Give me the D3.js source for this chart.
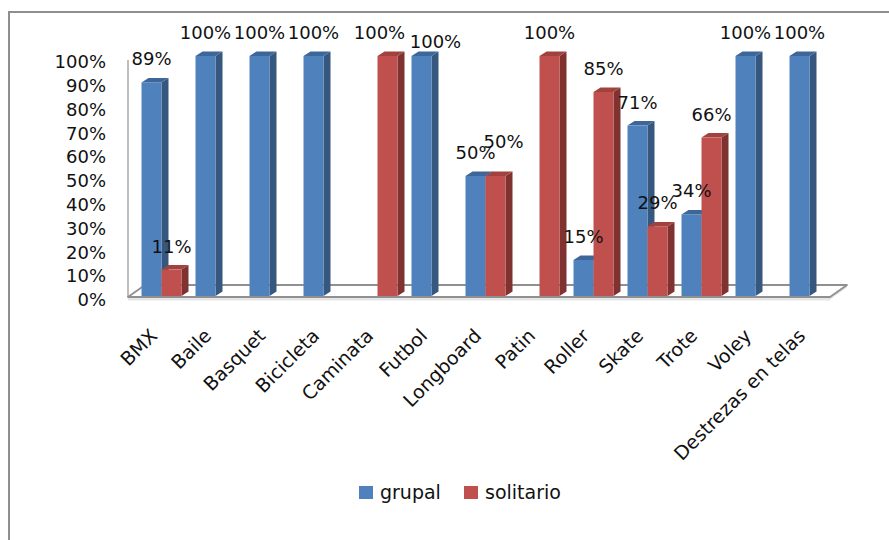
<!DOCTYPE html>
<html>
<head>
<meta charset="utf-8">
<script src="https://cdn.jsdelivr.net/npm/d3@7"></script>
<style>
  body { margin: 0; background: #ffffff; }
  svg { display: block; }
</style>
</head>
<body>
<svg id="chart" width="889" height="540"></svg>
<script>
// ---- data ----
const categories = ["BMX", "Baile", "Basquet", "Bicicleta", "Caminata", "Futbol",
  "Longboard", "Patin", "Roller", "Skate", "Trote", "Voley", "Destrezas en telas"];
const seriesNames = ["grupal", "solitario"];
const grupal    = [0.89, 1, 1, 1, null, 1, 0.5, null, 0.15, 0.71, 0.34, 1, 1];
const solitario = [0.11, null, null, null, 1, null, 0.5, 1, 0.85, 0.29, 0.66, null, null];
const yTicks = [0, 0.1, 0.2, 0.3, 0.4, 0.5, 0.6, 0.7, 0.8, 0.9, 1];

// ---- styling / layout ----
const FONT = "'DejaVu Sans', Verdana, sans-serif";
const colors = {
  grupal:    { front: "#4F81BD", side: "#36587F", top: "#3E6799" },
  solitario: { front: "#C0504D", side: "#7F3230", top: "#A2423F" }
};
const floor = { left: 128, right: 830, y: 297, dx: 17, dy: -12 };
const depth = { dx: 7, dy: -4.5 };
// data labels that were moved aside to keep them from colliding
const labelNudges = {
  "Caminata|solitario": [-8, 0],
  "Futbol|grupal": [14, 8.5],
  "Longboard|solitario": [8, -11.5]
};

const svg = d3.select("#chart");

// chart area outline
svg.append("path")
  .attr("d", "M9,540 V12 H889")
  .attr("fill", "none")
  .attr("stroke", "#8e8e8e")
  .attr("stroke-width", 2);

// scales
const x0 = d3.scaleBand().domain(categories).range([floor.left, floor.right]);
const x1 = d3.scaleBand().domain(seriesNames).range([13.5, 53.5]);
const y = d3.scaleLinear().domain([0, 1]).range([296, 56]);
const yAxisScale = d3.scaleLinear().domain([0, 1]).range([300, 62]);

// left wall edge
svg.append("line")
  .attr("x1", floor.left).attr("x2", floor.left)
  .attr("y1", 60).attr("y2", floor.y)
  .attr("stroke", "#a8a8a8").attr("stroke-width", 1.5);

// floor slab
svg.append("path")
  .attr("d", `M${floor.left},${floor.y} H${floor.right} l${floor.dx},${floor.dy} v2.5 l${-floor.dx},${-floor.dy} H${floor.left} Z`)
  .attr("fill", "#e2e2e2");
svg.append("path")
  .attr("d", `M${floor.left},${floor.y + 1.5} H${floor.right} l0,2 H${floor.left} Z`)
  .attr("fill", "#e6e6e6");
svg.append("path")
  .attr("d", `M${floor.left},${floor.y} H${floor.right} l${floor.dx},${floor.dy} H${floor.left + floor.dx} Z`)
  .attr("fill", "#ffffff")
  .attr("stroke", "#909090")
  .attr("stroke-width", 1.8)
  .attr("stroke-linejoin", "round");

// y axis labels
const axisG = svg.append("g")
  .attr("transform", "translate(106,0)")
  .call(d3.axisLeft(yAxisScale).tickValues(yTicks)
    .tickFormat(d3.format(".0%")).tickSize(0).tickPadding(0));
axisG.select(".domain").remove();
axisG.attr("font-family", FONT).attr("font-size", 18);
axisG.selectAll("text").attr("fill", "#111");

// bars (drawn left to right so side faces tuck behind neighbours)
const values = { grupal, solitario };
const bars = [];
categories.forEach((c, i) => {
  seriesNames.forEach(s => {
    const v = values[s][i];
    if (v != null && v > 0) bars.push({ cat: c, series: s, value: v });
  });
});

const barG = svg.append("g");
bars.forEach(b => {
  const xl = x0(b.cat) + x1(b.series);
  const w = x1.bandwidth();
  const yt = y(b.value);
  const yb = y(0);
  const col = colors[b.series];
  const g = barG.append("g");
  // side face
  g.append("path")
    .attr("d", `M${xl + w},${yb} V${yt} l${depth.dx},${depth.dy} V${yb + depth.dy} Z`)
    .attr("fill", col.side);
  // top face
  g.append("path")
    .attr("d", `M${xl},${yt} h${w} l${depth.dx},${depth.dy} h${-w} Z`)
    .attr("fill", col.top);
  // front face
  g.append("rect")
    .attr("x", xl).attr("y", yt)
    .attr("width", w).attr("height", yb - yt)
    .attr("fill", col.front);
});

// data labels
svg.append("g")
  .attr("font-family", FONT)
  .attr("font-size", 18)
  .attr("fill", "#111")
  .attr("text-anchor", "middle")
  .selectAll("text")
  .data(bars)
  .join("text")
  .attr("x", d => x0(d.cat) + x1(d.series) + x1.bandwidth() / 2 + (labelNudges[d.cat + "|" + d.series] || [0, 0])[0])
  .attr("y", d => y(d.value) - 17 + (labelNudges[d.cat + "|" + d.series] || [0, 0])[1])
  .text(d => d3.format(".0%")(d.value));

// category labels
svg.append("g")
  .attr("font-family", FONT)
  .attr("font-size", 19)
  .attr("fill", "#111")
  .attr("text-anchor", "end")
  .selectAll("text")
  .data(categories)
  .join("text")
  .attr("transform", d => `translate(${x0(d) + x1.range()[0] + x1.bandwidth() - 3},337) rotate(-45)`)
  .text(d => d);

// legend
const legend = svg.append("g")
  .attr("font-family", FONT)
  .attr("font-size", 19)
  .attr("fill", "#111");
const legendX = { grupal: 359, solitario: 464 };
seriesNames.forEach(s => {
  legend.append("rect")
    .attr("x", legendX[s]).attr("y", 486)
    .attr("width", 14).attr("height", 13)
    .attr("fill", colors[s].front);
  legend.append("text")
    .attr("x", legendX[s] + 21).attr("y", 499)
    .text(s);
});
</script>
</body>
</html>
